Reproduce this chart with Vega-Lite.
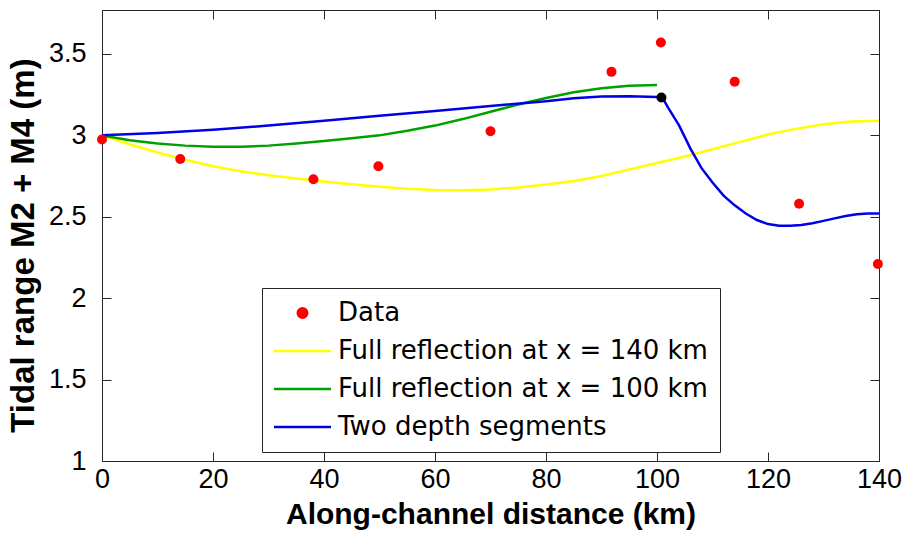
{
  "$schema": "https://vega.github.io/schema/vega-lite/v6.json",
  "width": 777,
  "height": 451,
  "autosize": "none",
  "padding": {"left": 102, "top": 10, "right": 25, "bottom": 73},
  "background": "white",
  "config": {
    "view": {"stroke": "#262626", "strokeWidth": 1},
    "axis": {
      "domain": false,
      "grid": false,
      "ticks": true,
      "tickSize": 9,
      "tickColor": "#262626",
      "tickWidth": 1,
      "tickOpacity": 1,
      "zindex": 1,
      "labelFont": "Liberation Sans Narrow, Arial Narrow, Liberation Sans",
      "labelFontSize": 27,
      "labelColor": "black",
      "titleFont": "Liberation Sans, Arial",
      "titleFontWeight": "bold",
      "titleFontSize": 30,
      "titleColor": "black"
    }
  },
  "datasets": {
    "obs": [
      {"x": 0, "y": 2.975, "series": "Data"},
      {"x": 14.1, "y": 2.855, "series": "Data"},
      {"x": 38.1, "y": 2.73, "series": "Data"},
      {"x": 49.8, "y": 2.81, "series": "Data"},
      {"x": 70.0, "y": 3.025, "series": "Data"},
      {"x": 91.8, "y": 3.39, "series": "Data"},
      {"x": 100.7, "y": 3.57, "series": "Data"},
      {"x": 114.0, "y": 3.33, "series": "Data"},
      {"x": 125.6, "y": 2.58, "series": "Data"},
      {"x": 139.8, "y": 2.21, "series": "Data"}
    ],
    "junction": [
      {"x": 100.8, "y": 3.233}
    ],
    "model": [
      {"x": 0, "y": 3.0, "series": "Full reflection at x = 140 km"},
      {"x": 5, "y": 2.945, "series": "Full reflection at x = 140 km"},
      {"x": 10, "y": 2.895, "series": "Full reflection at x = 140 km"},
      {"x": 15, "y": 2.85, "series": "Full reflection at x = 140 km"},
      {"x": 20, "y": 2.81, "series": "Full reflection at x = 140 km"},
      {"x": 25, "y": 2.78, "series": "Full reflection at x = 140 km"},
      {"x": 30, "y": 2.755, "series": "Full reflection at x = 140 km"},
      {"x": 35, "y": 2.735, "series": "Full reflection at x = 140 km"},
      {"x": 40, "y": 2.717, "series": "Full reflection at x = 140 km"},
      {"x": 45, "y": 2.70, "series": "Full reflection at x = 140 km"},
      {"x": 50, "y": 2.685, "series": "Full reflection at x = 140 km"},
      {"x": 55, "y": 2.672, "series": "Full reflection at x = 140 km"},
      {"x": 60, "y": 2.665, "series": "Full reflection at x = 140 km"},
      {"x": 65, "y": 2.663, "series": "Full reflection at x = 140 km"},
      {"x": 70, "y": 2.668, "series": "Full reflection at x = 140 km"},
      {"x": 75, "y": 2.68, "series": "Full reflection at x = 140 km"},
      {"x": 80, "y": 2.698, "series": "Full reflection at x = 140 km"},
      {"x": 85, "y": 2.72, "series": "Full reflection at x = 140 km"},
      {"x": 90, "y": 2.75, "series": "Full reflection at x = 140 km"},
      {"x": 95, "y": 2.79, "series": "Full reflection at x = 140 km"},
      {"x": 100, "y": 2.83, "series": "Full reflection at x = 140 km"},
      {"x": 105, "y": 2.87, "series": "Full reflection at x = 140 km"},
      {"x": 110, "y": 2.915, "series": "Full reflection at x = 140 km"},
      {"x": 115, "y": 2.96, "series": "Full reflection at x = 140 km"},
      {"x": 120, "y": 3.005, "series": "Full reflection at x = 140 km"},
      {"x": 125, "y": 3.04, "series": "Full reflection at x = 140 km"},
      {"x": 130, "y": 3.068, "series": "Full reflection at x = 140 km"},
      {"x": 135, "y": 3.085, "series": "Full reflection at x = 140 km"},
      {"x": 140, "y": 3.09, "series": "Full reflection at x = 140 km"},
      {"x": 0, "y": 3.0, "series": "Full reflection at x = 100 km"},
      {"x": 5, "y": 2.97, "series": "Full reflection at x = 100 km"},
      {"x": 10, "y": 2.95, "series": "Full reflection at x = 100 km"},
      {"x": 15, "y": 2.937, "series": "Full reflection at x = 100 km"},
      {"x": 20, "y": 2.93, "series": "Full reflection at x = 100 km"},
      {"x": 25, "y": 2.93, "series": "Full reflection at x = 100 km"},
      {"x": 30, "y": 2.937, "series": "Full reflection at x = 100 km"},
      {"x": 35, "y": 2.95, "series": "Full reflection at x = 100 km"},
      {"x": 40, "y": 2.966, "series": "Full reflection at x = 100 km"},
      {"x": 45, "y": 2.983, "series": "Full reflection at x = 100 km"},
      {"x": 50, "y": 3.0, "series": "Full reflection at x = 100 km"},
      {"x": 55, "y": 3.028, "series": "Full reflection at x = 100 km"},
      {"x": 60, "y": 3.06, "series": "Full reflection at x = 100 km"},
      {"x": 65, "y": 3.1, "series": "Full reflection at x = 100 km"},
      {"x": 70, "y": 3.145, "series": "Full reflection at x = 100 km"},
      {"x": 75, "y": 3.19, "series": "Full reflection at x = 100 km"},
      {"x": 80, "y": 3.23, "series": "Full reflection at x = 100 km"},
      {"x": 85, "y": 3.265, "series": "Full reflection at x = 100 km"},
      {"x": 90, "y": 3.29, "series": "Full reflection at x = 100 km"},
      {"x": 95, "y": 3.305, "series": "Full reflection at x = 100 km"},
      {"x": 100, "y": 3.31, "series": "Full reflection at x = 100 km"},
      {"x": 0, "y": 3.0, "series": "Two depth segments"},
      {"x": 10, "y": 3.015, "series": "Two depth segments"},
      {"x": 20, "y": 3.035, "series": "Two depth segments"},
      {"x": 30, "y": 3.06, "series": "Two depth segments"},
      {"x": 40, "y": 3.09, "series": "Two depth segments"},
      {"x": 50, "y": 3.12, "series": "Two depth segments"},
      {"x": 60, "y": 3.15, "series": "Two depth segments"},
      {"x": 70, "y": 3.18, "series": "Two depth segments"},
      {"x": 80, "y": 3.21, "series": "Two depth segments"},
      {"x": 85, "y": 3.228, "series": "Two depth segments"},
      {"x": 90, "y": 3.238, "series": "Two depth segments"},
      {"x": 95, "y": 3.24, "series": "Two depth segments"},
      {"x": 100, "y": 3.236, "series": "Two depth segments"},
      {"x": 101, "y": 3.23, "series": "Two depth segments"},
      {"x": 102, "y": 3.17, "series": "Two depth segments"},
      {"x": 104, "y": 3.06, "series": "Two depth segments"},
      {"x": 106, "y": 2.92, "series": "Two depth segments"},
      {"x": 108, "y": 2.8, "series": "Two depth segments"},
      {"x": 110, "y": 2.71, "series": "Two depth segments"},
      {"x": 112, "y": 2.63, "series": "Two depth segments"},
      {"x": 114, "y": 2.57, "series": "Two depth segments"},
      {"x": 116, "y": 2.52, "series": "Two depth segments"},
      {"x": 118, "y": 2.48, "series": "Two depth segments"},
      {"x": 120, "y": 2.455, "series": "Two depth segments"},
      {"x": 122, "y": 2.445, "series": "Two depth segments"},
      {"x": 124, "y": 2.445, "series": "Two depth segments"},
      {"x": 126, "y": 2.45, "series": "Two depth segments"},
      {"x": 128, "y": 2.46, "series": "Two depth segments"},
      {"x": 130, "y": 2.475, "series": "Two depth segments"},
      {"x": 132, "y": 2.49, "series": "Two depth segments"},
      {"x": 134, "y": 2.505, "series": "Two depth segments"},
      {"x": 136, "y": 2.515, "series": "Two depth segments"},
      {"x": 138, "y": 2.52, "series": "Two depth segments"},
      {"x": 140, "y": 2.52, "series": "Two depth segments"}
    ]
  },
  "resolve": {"axis": {"x": "independent", "y": "independent"}},
  "layer": [
    {
      "data": {"name": "model"},
      "mark": {"type": "line", "strokeWidth": 2.5, "clip": true},
      "encoding": {
        "x": {
          "field": "x", "type": "quantitative",
          "scale": {"domain": [0, 140], "nice": false, "zero": false},
          "axis": {"orient": "bottom", "offset": -9, "values": [0, 20, 40, 60, 80, 100, 120, 140], "title": "Along-channel distance (km)", "labelPadding": 5, "titlePadding": 7, "labelFlush": false}
        },
        "y": {
          "field": "y", "type": "quantitative",
          "scale": {"domain": [1, 3.77], "nice": false, "zero": false},
          "axis": {"orient": "left", "offset": -9, "values": [1, 1.5, 2, 2.5, 3, 3.5], "labelExpr": "'' + datum.value", "title": "Tidal range M2 + M4 (m)", "labelPadding": 16, "titlePadding": 8, "titleFontSize": 33, "titleY": 235, "labelFlush": false}
        },
        "color": {
          "field": "series", "type": "nominal",
          "scale": {
            "domain": ["Data", "Full reflection at x = 140 km", "Full reflection at x = 100 km", "Two depth segments"],
            "range": ["#ff0000", "#ffff00", "#00a000", "#0000e6"]
          },
          "legend": {
            "orient": "none",
            "legendX": 160,
            "legendY": 278,
            "title": null,
            "strokeColor": "#262626",
            "fillColor": "white",
            "padding": 12,
            "labelFont": "DejaVu Sans, Liberation Sans",
            "labelFontSize": 26,
            "labelColor": "black",
            "labelLimit": 600,
            "labelOffset": 38,
            "rowPadding": 12,
            "symbolSize": 400,
            "symbolStrokeWidth": 2.5,
            "encode": {
              "symbols": {
                "update": {
                  "x": {"value": 28.5},
                  "shape": {"signal": "datum.value === 'Data' ? 'circle' : 'M-2.85,0H2.85'"},
                  "size": {"signal": "datum.value === 'Data' ? 90 : 400"},
                  "fill": {"signal": "datum.value === 'Data' ? '#ff0000' : 'transparent'"},
                  "stroke": {"signal": "datum.value === 'Data' ? 'transparent' : scale('color', datum.value)"},
                  "strokeWidth": {"value": 2.5},
                  "opacity": {"value": 1}
                }
              }
            }
          }
        }
      }
    },
    {
      "data": {"name": "obs"},
      "mark": {"type": "point", "filled": true, "size": 100, "opacity": 1},
      "encoding": {
        "x": {"field": "x", "type": "quantitative", "axis": null},
        "y": {"field": "y", "type": "quantitative", "axis": null},
        "color": {"field": "series", "type": "nominal"}
      }
    },
    {
      "data": {"name": "junction"},
      "mark": {"type": "point", "filled": true, "size": 100, "opacity": 1, "color": "black"},
      "encoding": {
        "x": {"field": "x", "type": "quantitative", "axis": {"orient": "top", "offset": -9, "values": [0, 20, 40, 60, 80, 100, 120, 140], "labels": false, "title": null}},
        "y": {"field": "y", "type": "quantitative", "axis": {"orient": "right", "offset": -9, "values": [1, 1.5, 2, 2.5, 3, 3.5], "labels": false, "title": null}}
      }
    }
  ]
}
